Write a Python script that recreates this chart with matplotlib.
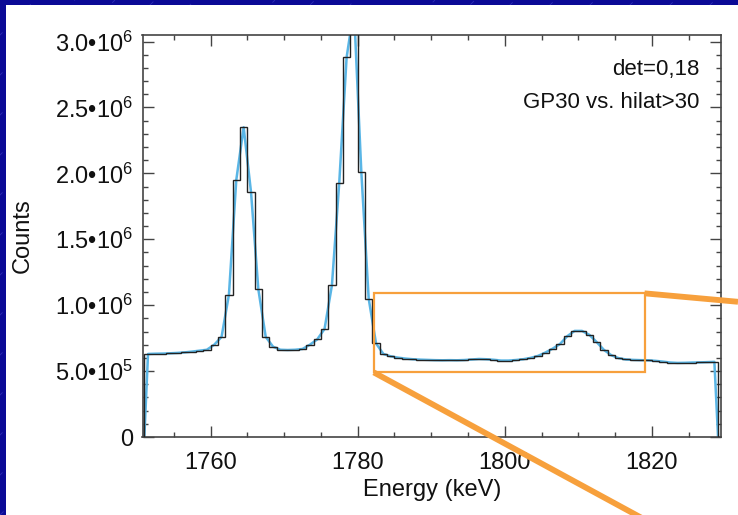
import numpy as np
import matplotlib.pyplot as plt
from matplotlib.patches import Rectangle, ConnectionPatch
from matplotlib.lines import Line2D
from matplotlib.ticker import MultipleLocator, FuncFormatter

plt.rcParams["font.family"] = ["Liberation Sans", "DejaVu Sans"]
plt.rcParams["mathtext.fontset"] = "custom"
plt.rcParams["mathtext.rm"] = "Liberation Sans"

# 1 keV bins, lower edges 1751 ... 1828
bin_edges = np.arange(1751, 1830)
counts = np.array([
    6.30e5, 6.32e5, 6.33e5, 6.35e5, 6.38e5, 6.42e5, 6.48e5, 6.55e5, 6.62e5,
    7.00e5, 7.60e5, 1.08e6, 1.95e6, 2.35e6, 1.86e6, 1.12e6, 7.60e5, 6.85e5,
    6.62e5, 6.60e5, 6.62e5, 6.68e5, 7.00e5, 7.40e5, 8.20e5, 1.15e6, 1.93e6,
    2.88e6, 3.25e6, 2.01e6, 1.05e6, 7.10e5, 6.30e5, 6.12e5, 6.02e5, 5.95e5,
    5.90e5, 5.87e5, 5.85e5, 5.83e5, 5.82e5, 5.83e5, 5.82e5, 5.84e5, 5.88e5,
    5.92e5, 5.90e5, 5.86e5, 5.80e5, 5.80e5, 5.84e5, 5.90e5, 6.00e5, 6.15e5,
    6.40e5, 6.70e5, 7.05e5, 7.65e5, 8.05e5, 8.05e5, 7.75e5, 7.20e5, 6.60e5,
    6.20e5, 5.98e5, 5.88e5, 5.85e5, 5.83e5, 5.82e5, 5.78e5, 5.72e5, 5.65e5,
    5.62e5, 5.63e5, 5.65e5, 5.66e5, 5.68e5, 5.70e5,
])

# zoom box around the 26Al line
box_x = (1782.2, 1819.0)
box_y = (4.9e5, 1.09e6)

info_lines = ["det=0,18", "GP30 vs. hilat>30"]

orange = "#f7a03c"
slide_blue = "#0b0a96"

fig = plt.figure(figsize=(7.38, 5.15), dpi=100, facecolor=slide_blue)

# slide background: faint diagonal stripes, white panel on top
for k in range(-20, 40):
    x0 = k * 40 / 738
    fig.add_artist(Line2D([x0, x0 + 515 / 738], [0, 1], transform=fig.transFigure,
                          color="#3b3cc4", lw=0.6, ls=(0, (6, 10)), alpha=0.7, zorder=0))
fig.add_artist(Rectangle((6 / 738, 0), 1, 1 - 5 / 515, transform=fig.transFigure,
                         facecolor="white", edgecolor="none", zorder=0.5))

ax = fig.add_axes([142.5 / 738, 1 - 437 / 515, 578.5 / 738, 402 / 515])
ax.set_facecolor("white")
ax.set_zorder(1)

centers = bin_edges[:-1] + 0.5
model_x = np.concatenate([[bin_edges[0]], centers, [bin_edges[-1]]])
model_y = np.concatenate([[0], counts, [0]])
ax.plot(model_x, model_y, color="#5ab6e6", lw=1.8, zorder=2)
ax.stairs(counts, bin_edges, baseline=0, color="#222222", lw=1.0, zorder=3)

ax.add_patch(Rectangle((box_x[0], box_y[0]), box_x[1] - box_x[0], box_y[1] - box_y[0],
                       fill=False, edgecolor=orange, lw=1.6, zorder=4))

ax.set_xlim(1750.75, 1829.4)
ax.set_ylim(0, 3.05e6)

ax.xaxis.set_major_locator(MultipleLocator(20))
ax.xaxis.set_minor_locator(MultipleLocator(5))
ax.yaxis.set_major_locator(MultipleLocator(5e5))
ax.yaxis.set_minor_locator(MultipleLocator(1e5))


def sci_label(v, pos):
    if v <= 0:
        return "0"
    exp = int(np.floor(np.log10(v)))
    return r"$\mathregular{%.1f•10^{%d}}$" % (v / 10 ** exp, exp)


ax.yaxis.set_major_formatter(FuncFormatter(sci_label))
ax.tick_params(which="both", direction="in", top=True, right=True,
               colors="#444444", labelcolor="#111111", width=1.0)
ax.tick_params(which="major", length=8, labelsize=17)
ax.tick_params(axis="y", which="major", pad=7)
ax.tick_params(axis="x", which="major", pad=10.5)
ax.tick_params(which="minor", length=3.6)
for s in ax.spines.values():
    s.set_color("#444444")
    s.set_linewidth(1.2)

ax.set_xlabel("Energy (keV)", fontsize=17, color="#111111", labelpad=4)
ax.set_ylabel("Counts", fontsize=17, color="#111111", labelpad=15)

ax.text(0.962, 0.913, info_lines[0], transform=ax.transAxes, ha="right", va="center",
        fontsize=16, color="#111111")
ax.text(0.962, 0.831, info_lines[1], transform=ax.transAxes, ha="right", va="center",
        fontsize=16, color="#111111")

# lines leading out of the zoom box
for corner, target in [((box_x[1], box_y[1]), (1.0, 0.414)),
                       ((box_x[0], box_y[0]), (0.875, -0.01))]:
    con = ConnectionPatch(xyA=corner, coordsA=ax.transData, xyB=target,
                          coordsB=fig.transFigure, color=orange, lw=4.2,
                          capstyle="butt", zorder=5)
    fig.add_artist(con)

fig.savefig("out.png", dpi=100, facecolor=slide_blue)
